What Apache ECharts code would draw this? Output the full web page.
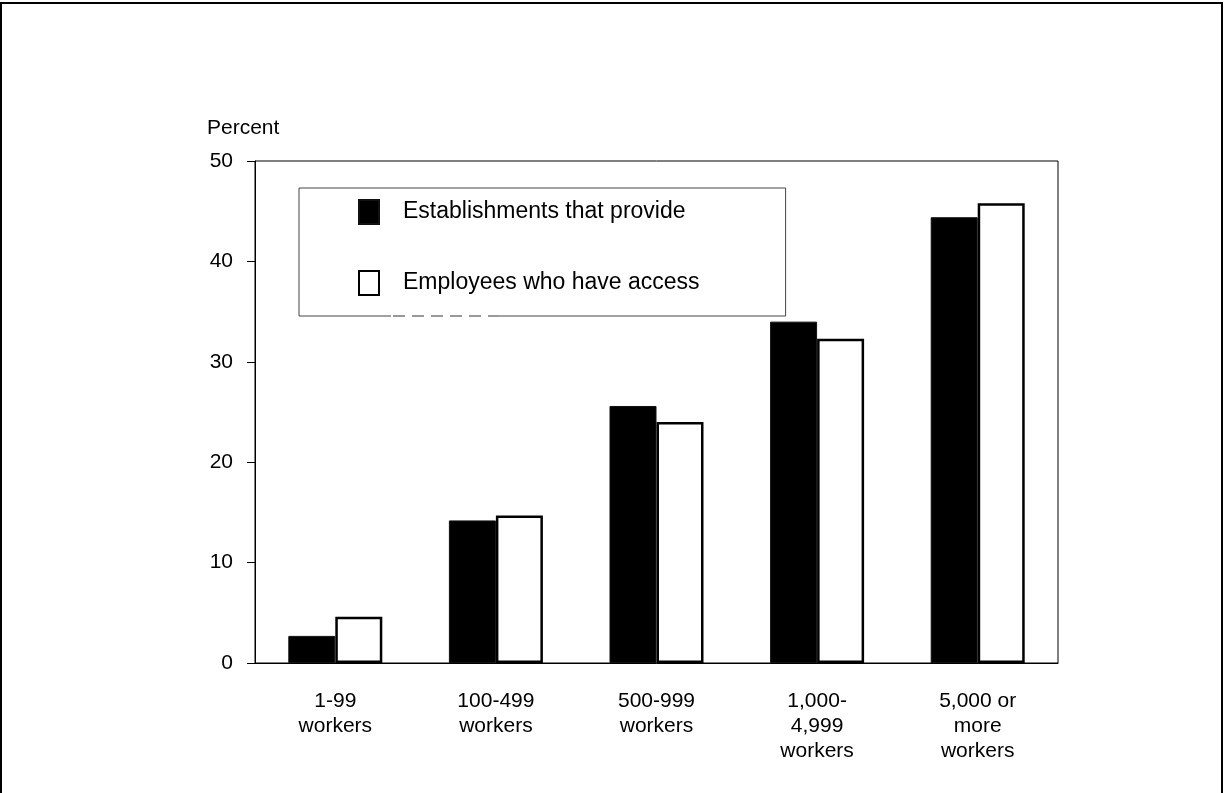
<!DOCTYPE html>
<html>
<head>
<meta charset="utf-8">
<script src="https://cdn.jsdelivr.net/npm/echarts@6/dist/echarts.min.js"></script>
<style>
  html, body { margin: 0; padding: 0; background: #fff; }
  #main { width: 1225px; height: 793px; }
</style>
</head>
<body>
<div id="main"></div>
<script>
// categories and values (percent)
var categories = ['1-99\nworkers', '100-499\nworkers', '500-999\nworkers', '1,000-\n4,999\nworkers', '5,000 or\nmore\nworkers'];
var establishments = [2.7, 14.2, 25.6, 34.0, 44.4];
var employees = [4.6, 14.7, 24.0, 32.3, 45.8];
var yTicks = [0, 10, 20, 30, 40, 50];

var font = '"Liberation Sans", Arial, sans-serif';
var myChart = echarts.init(document.getElementById('main'));

var option = {
    animation: false,
    backgroundColor: '#fff',
    textStyle: { fontFamily: font, color: '#000' },
    grid: {
        left: 255, right: 167, top: 161, bottom: 130,
        show: true, borderColor: '#000', borderWidth: 1
    },
    legend: {
        orient: 'vertical',
        left: 299, top: 188,
        padding: [11, 86, 20, 59],
        itemGap: 45,
        itemWidth: 20, itemHeight: 24,
        icon: 'rect',
        backgroundColor: '#fff',
        borderColor: '#444', borderWidth: 1,
        textStyle: { fontFamily: font, fontSize: 23, lineHeight: 24, color: '#000', padding: [0, 0, 0, 19] },
        data: ['Establishments that provide', 'Employees who have access']
    },
    xAxis: {
        type: 'category',
        data: categories,
        axisLine: { lineStyle: { color: '#000', width: 1 } },
        axisTick: { show: false },
        axisLabel: { fontFamily: font, fontSize: 21, color: '#000', margin: 26, lineHeight: 25, interval: 0 }
    },
    yAxis: {
        type: 'value',
        min: yTicks[0], max: yTicks[yTicks.length - 1], interval: 10,
        axisLine: { show: true, lineStyle: { color: '#000', width: 1 } },
        axisTick: { show: true, length: 8, lineStyle: { color: '#000' } },
        axisLabel: { fontFamily: font, fontSize: 21, color: '#000', margin: 22 },
        splitLine: { show: false }
    },
    series: [
        {
            name: 'Establishments that provide',
            type: 'bar',
            data: establishments,
            barWidth: 47,
            barGap: '0%',
            itemStyle: { color: '#000', borderColor: '#111', borderWidth: 1 }
        },
        {
            name: 'Employees who have access',
            type: 'bar',
            data: employees,
            barWidth: 47,
            itemStyle: { color: '#fff', borderColor: '#000', borderWidth: 2.5 }
        }
    ],
    graphic: [
        // outer frame
        { type: 'rect', shape: { x: 1, y: 3, width: 1221, height: 820 },
          style: { fill: 'none', stroke: '#000', lineWidth: 2 }, silent: true },
        { type: 'text', left: 207, top: 118,
          style: { text: 'Percent', fontFamily: font, fontSize: 21, fill: '#000' } },
        // broken piece of legend border
        { type: 'line', shape: { x1: 391, y1: 316, x2: 498, y2: 316 }, z: 200,
          style: { stroke: '#fff', lineWidth: 2 } },
        { type: 'line', shape: { x1: 393, y1: 316, x2: 498, y2: 316 }, z: 201,
          style: { stroke: '#777', lineWidth: 1.5, lineDash: [12, 7] } }
    ]
};

myChart.setOption(option);
</script>
</body>
</html>
